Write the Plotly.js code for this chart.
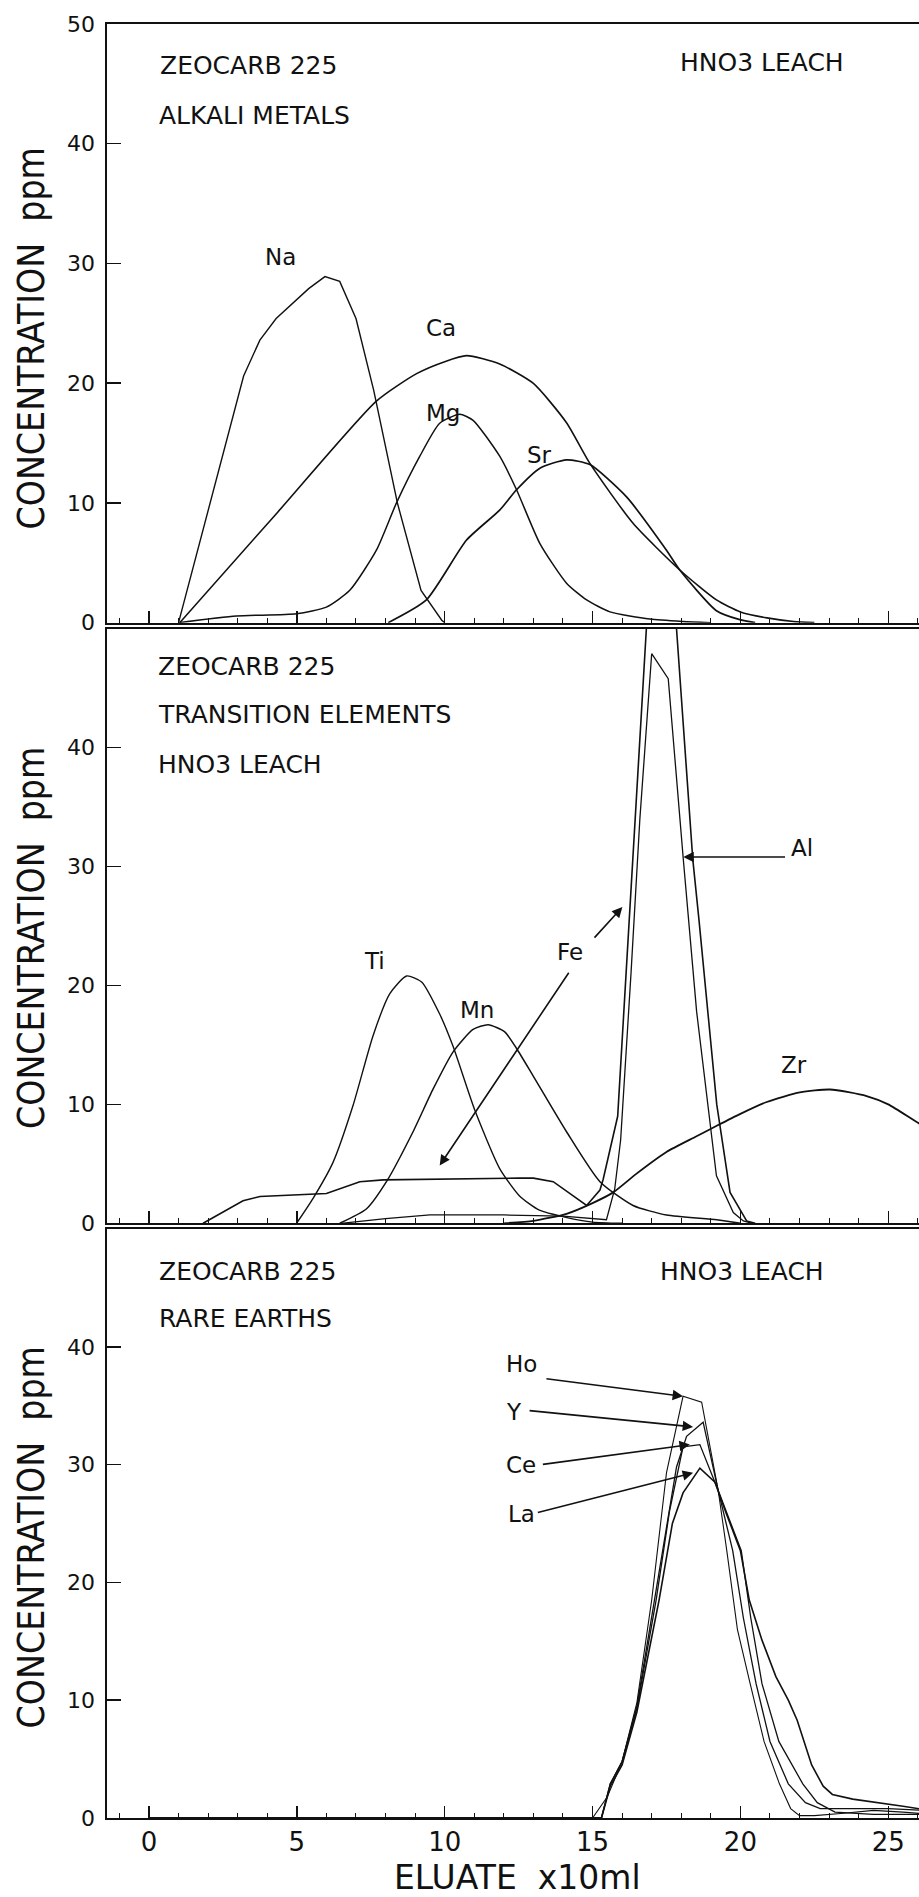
<!DOCTYPE html>
<html><head><meta charset="utf-8">
<script src="https://cdn.plot.ly/plotly-3.0.1.min.js"></script>
<style>html,body{margin:0;padding:0;background:#fff;}#chart{width:919px;height:1897px;}</style>
</head><body><div id="chart"></div>
<script>
// ---------- Panel 1: alkali metals ----------
const naX = [1.0, 3.2, 3.75, 4.3, 5.4, 5.95, 6.45, 7.0, 7.6, 8.4, 9.2, 9.9, 10.0];
const naY = [0, 20.6, 23.6, 25.4, 27.9, 28.9, 28.5, 25.4, 19.4, 10.0, 2.7, 0.2, 0];
const caX = [1.04, 4.36, 7.69, 9.05, 10.0, 10.74, 11.86, 12.99, 14.12, 14.91, 16.37, 17.95, 19.19, 20.0, 20.9, 21.8, 22.5];
const caY = [0, 9.25, 18.5, 20.8, 21.8, 22.3, 21.6, 20.0, 16.7, 13.3, 8.3, 4.4, 1.9, 0.9, 0.4, 0.1, 0];
const mgX = [1.0, 2.96, 4.99, 6.0, 6.79, 7.69, 8.37, 9.16, 9.83, 10.51, 10.96, 11.86, 12.43, 13.22, 14.12, 14.8, 15.59, 16.94, 18.06, 19.0];
const mgY = [0, 0.55, 0.75, 1.3, 2.7, 6.05, 10.0, 13.9, 16.65, 17.4, 16.9, 13.9, 11.1, 6.6, 3.3, 1.9, 0.9, 0.3, 0.1, 0];
const srX = [8.09, 9.38, 10.74, 11.86, 12.43, 13.22, 14.12, 14.91, 16.15, 17.5, 17.95, 19.19, 19.98, 20.5];
const srY = [0, 1.9, 6.9, 9.4, 11.1, 12.9, 13.6, 13.2, 10.5, 6.05, 4.4, 1.0, 0.25, 0];

// ---------- Panel 2: transition elements ----------
const tiX = [4.99, 5.55, 6.22, 6.9, 7.58, 8.14, 8.71, 9.22, 9.83, 10.28, 11.02, 11.86, 12.53, 13.2, 14.1, 15.0, 16.0];
const tiY = [0, 2.1, 5.1, 9.9, 15.8, 19.3, 20.8, 20.3, 17.6, 14.9, 9.5, 4.6, 2.3, 1.1, 0.5, 0.1, 0];
const mnX = [6.45, 7.35, 8.03, 8.93, 9.61, 10.28, 10.96, 11.47, 12.03, 12.43, 12.99, 14.12, 15.25, 16.37, 17.5, 19.2, 20.0];
const mnY = [0, 1.2, 3.5, 7.7, 11.3, 14.4, 16.3, 16.7, 16.1, 14.7, 12.4, 7.7, 3.5, 1.5, 0.7, 0.3, 0];
const feX = [1.83, 3.18, 3.75, 6.0, 7.13, 7.92, 12.5, 13.0, 13.67, 14.8, 15.25, 15.36, 15.85, 16.82, 17.0, 17.5, 17.84, 18.39, 18.6, 18.86, 19.2, 19.65, 20.21, 20.5];
const feY = [0, 1.9, 2.25, 2.5, 3.5, 3.65, 3.8, 3.8, 3.5, 1.5, 2.8, 3.7, 9.0, 50.0, 56.5, 58.0, 50.0, 30.6, 25.5, 18.5, 10.0, 2.6, 0.2, 0];
const alX = [6.5, 8.0, 9.5, 12.0, 14.0, 15.0, 15.47, 15.75, 15.95, 16.3, 16.6, 17.0, 17.56, 18.07, 18.52, 19.19, 19.76, 20.1, 20.4];
const alY = [0, 0.4, 0.7, 0.7, 0.6, 0.4, 0.3, 2.9, 7.0, 21.0, 34.0, 47.9, 45.8, 30.6, 17.8, 4.0, 0.9, 0.2, 0];
const zrX = [12.0, 13.0, 14.12, 15.0, 15.7, 16.5, 17.5, 18.5, 19.2, 20.0, 20.89, 22.01, 23.03, 24.27, 25.0, 26.04, 26.5];
const zrY = [0, 0.2, 0.8, 1.7, 2.6, 4.2, 6.0, 7.3, 8.2, 9.2, 10.2, 11.0, 11.25, 10.7, 10.0, 8.4, 7.8];

// ---------- Panel 3: rare earths ----------
const hoX = [0, 15.0, 15.5, 16.0, 16.5, 17.0, 17.5, 18.06, 18.69, 19.25, 19.54, 19.9, 20.33, 20.8, 21.32, 21.7, 22.0, 22.5, 23.5, 24.5, 25.5, 26.5];
const hoY = [0, 0, 1.8, 4.8, 9.8, 18.5, 29.3, 35.8, 35.3, 27.8, 22.7, 16.0, 11.4, 6.5, 2.9, 0.8, 0.2, 0.2, 0.4, 0.65, 0.5, 0.3];
const yX = [0, 15.3, 15.6, 16.0, 16.5, 17.1, 17.5, 17.84, 18.18, 18.74, 19.25, 19.74, 20.1, 20.53, 21.0, 21.62, 22.2, 22.7, 24.0, 25.0, 26.5];
const yY = [0, 0, 2.9, 4.8, 9.5, 18.5, 24.5, 29.8, 32.4, 33.6, 27.8, 22.7, 17.0, 11.4, 6.5, 2.9, 1.3, 0.8, 0.8, 0.8, 0.6];
const ceX = [0, 15.3, 15.6, 16.0, 16.5, 17.15, 17.6, 18.06, 18.63, 19.25, 20.03, 20.35, 20.73, 21.3, 22.11, 22.6, 23.2, 24.5, 26.5];
const ceY = [0, 0, 2.9, 4.8, 9.3, 18.5, 26.0, 31.5, 31.7, 27.8, 22.7, 17.0, 11.4, 6.5, 2.9, 1.3, 0.5, 0.3, 0.3];
const laX = [0, 15.3, 15.6, 16.0, 16.5, 17.25, 17.7, 18.06, 18.63, 19.14, 19.5, 20.0, 20.3, 20.73, 21.2, 21.62, 21.92, 22.41, 22.8, 23.11, 23.8, 24.7, 25.5, 26.5];
const laY = [0, 0, 2.7, 4.5, 9.0, 18.5, 25.0, 27.6, 29.7, 28.5, 26.0, 22.7, 18.5, 15.1, 12.0, 10.0, 8.3, 4.5, 2.7, 2.0, 1.6, 1.3, 1.0, 0.6];

const xTickVals = [0, 5, 10, 15, 20, 25];
const yTicksTop = [0, 10, 20, 30, 40, 50];
const yTicksLow = [0, 10, 20, 30, 40];

const FONT = 'DejaVu Sans, sans-serif';
const TFONT = 'Liberation Sans Narrow, DejaVu Sans Condensed, DejaVu Sans, sans-serif';
const INK = '#111';

function line(x, y, xa, ya, w, smooth) {
  const ln = {color: INK, width: w || 1.4};
  if (smooth) { ln.shape = 'spline'; ln.smoothing = 0.6; }
  return {x: x, y: y, xaxis: xa, yaxis: ya, type: 'scatter', mode: 'lines',
          line: ln, hoverinfo: 'skip', showlegend: false};
}

const traces = [
  line(naX, naY, 'x3', 'y', 1.4, false), line(caX, caY, 'x3', 'y', 1.6, true), line(mgX, mgY, 'x3', 'y', 1.5, true), line(srX, srY, 'x3', 'y', 1.7, true),
  line(tiX, tiY, 'x2', 'y2', 1.4, true), line(mnX, mnY, 'x2', 'y2', 1.5, true), line(feX, feY, 'x2', 'y2', 1.6, false), line(alX, alY, 'x2', 'y2', 1.3, false), line(zrX, zrY, 'x2', 'y2', 1.8, true),
  line(hoX, hoY, 'x', 'y3', 1.1, false), line(yX, yY, 'x', 'y3', 1.3, false), line(ceX, ceY, 'x', 'y3', 1.3, false), line(laX, laY, 'x', 'y3', 1.6, false)
];

function xaxisDef(anchor, labels) {
  return {
    anchor: anchor, domain: [0, 1], range: [-1.42, 26.04],
    showline: true, linecolor: INK, linewidth: 2, mirror: true,
    ticks: 'inside', ticklen: 12, tickwidth: 1.5, tickcolor: INK,
    tickmode: 'array', tickvals: xTickVals,
    minor: {ticks: 'inside', ticklen: 5, tickwidth: 1, tickcolor: INK, dtick: 1, tick0: 0},
    showgrid: false, zeroline: false, showticklabels: labels,
    tickfont: {family: FONT, size: 26, color: INK}, fixedrange: true
  };
}
function yaxisDef(anchor, dom, vals) {
  return {
    anchor: anchor, domain: dom, range: [0, 50],
    showline: true, linecolor: INK, linewidth: 1.6, mirror: false,
    ticks: 'inside', ticklen: 14, tickwidth: 1.5, tickcolor: INK,
    tickmode: 'array', tickvals: vals, ticktext: vals.map(String),
    showgrid: false, zeroline: false, ticklabelstandoff: 6,
    tickfont: {family: FONT, size: 22, color: INK}, fixedrange: true
  };
}

function label(text, x, y, xa, ya, size, anchor) {
  return {text: text, x: x, y: y, xref: xa, yref: ya, showarrow: false,
          xanchor: anchor || 'center', yanchor: 'middle',
          font: {family: FONT, size: size || 23, color: INK}};
}
function arrow(tx, ty, fx, fy, xa, ya) {
  return {text: '', x: tx, y: ty, ax: fx, ay: fy, xref: xa, yref: ya, axref: xa, ayref: ya,
          showarrow: true, arrowhead: 2, arrowsize: 1.3, arrowwidth: 1.6, arrowcolor: INK, standoff: 0, startstandoff: 0};
}
function ytitle(y) {
  return {text: 'CONCENTRATION  ppm', x: -0.0936, y: y, xref: 'paper', yref: 'paper', textangle: -90,
          showarrow: false, xanchor: 'center', yanchor: 'middle', font: {family: TFONT, size: 37, color: INK}};
}

const annotations = [
  // panel 1
  label('ZEOCARB 225', 0.3, 46.5, 'x3', 'y', 25, 'left'),
  label('ALKALI METALS', 0.27, 42.4, 'x3', 'y', 25, 'left'),
  label('HNO3 LEACH', 17.88, 46.8, 'x3', 'y', 25, 'left'),
  label('Na', 4.46, 30.5, 'x3', 'y'),
  label('Ca', 9.87, 24.6, 'x3', 'y'),
  label('Mg', 9.94, 17.5, 'x3', 'y'),
  label('Sr', 13.22, 14.0, 'x3', 'y'),
  // panel 2
  label('ZEOCARB 225', 0.23, 46.8, 'x2', 'y2', 25, 'left'),
  label('TRANSITION ELEMENTS', 0.23, 42.8, 'x2', 'y2', 25, 'left'),
  label('HNO3 LEACH', 0.23, 38.6, 'x2', 'y2', 25, 'left'),
  label('Ti', 7.64, 22.06, 'x2', 'y2'),
  label('Mn', 11.1, 17.9, 'x2', 'y2'),
  label('Fe', 14.23, 22.8, 'x2', 'y2'),
  label('Al', 22.1, 31.6, 'x2', 'y2'),
  label('Zr', 21.81, 13.3, 'x2', 'y2'),
  arrow(18.07, 30.8, 21.56, 30.8, 'x2', 'y2'),
  arrow(16.01, 26.6, 15.02, 23.9, 'x2', 'y2'),
  arrow(9.83, 4.86, 14.23, 21.2, 'x2', 'y2'),
  // panel 3
  label('ZEOCARB 225', 0.26, 46.4, 'x', 'y3', 25, 'left'),
  label('RARE EARTHS', 0.26, 42.4, 'x', 'y3', 25, 'left'),
  label('HNO3 LEACH', 17.22, 46.4, 'x', 'y3', 25, 'left'),
  label('Ho', 12.6, 38.5, 'x', 'y3'),
  label('Y', 12.34, 34.5, 'x', 'y3'),
  label('Ce', 12.57, 30.0, 'x', 'y3'),
  label('La', 12.6, 25.8, 'x', 'y3'),
  arrow(18.06, 35.8, 13.39, 37.3, 'x', 'y3'),
  arrow(18.4, 33.2, 12.82, 34.6, 'x', 'y3'),
  arrow(18.29, 31.7, 13.27, 30.0, 'x', 'y3'),
  arrow(18.4, 29.3, 13.1, 25.9, 'x', 'y3'),
  // axis titles
  ytitle(0.8247), ytitle(0.4905), ytitle(0.1564),
  {text: 'ELUATE  x10ml', x: 0.505, y: -0.0334, xref: 'paper', yref: 'paper',
   showarrow: false, xanchor: 'center', yanchor: 'middle', font: {family: FONT, size: 33, color: INK}}
];

const layout = {
  width: 919, height: 1897,
  margin: {l: 107, r: 0, t: 24, b: 79},
  paper_bgcolor: '#fff', plot_bgcolor: '#fff',
  showlegend: false,
  xaxis: xaxisDef('y3', true),
  xaxis2: Object.assign(xaxisDef('y2', false), {matches: 'x'}),
  xaxis3: Object.assign(xaxisDef('y', false), {matches: 'x'}),
  yaxis: yaxisDef('x3', [0.6663, 1], yTicksTop),
  yaxis2: yaxisDef('x2', [0.3315, 0.6629], yTicksLow),
  yaxis3: yaxisDef('x', [0, 0.3283], yTicksLow),
  annotations: annotations
};

Plotly.newPlot('chart', traces, layout, {staticPlot: true, displayModeBar: false});
</script>
</body></html>
